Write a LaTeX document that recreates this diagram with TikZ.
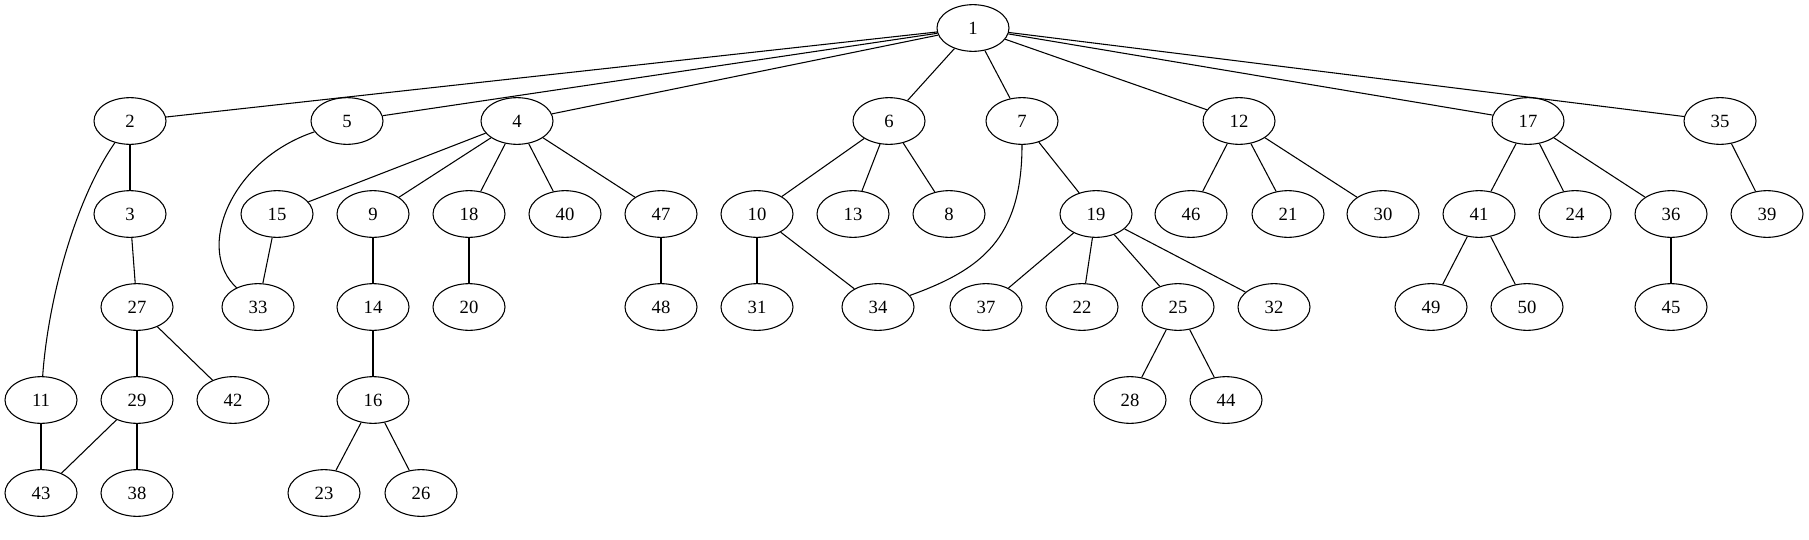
\documentclass[tikz,border=0pt]{standalone}
\usepackage{fontspec}
\setmainfont{Liberation Serif}
\usetikzlibrary{shapes.geometric}

\begin{document}
\begin{tikzpicture}[x=0.75pt,y=-0.75pt,
    vertex/.style={draw,ellipse,line width=0.8pt,minimum width=54pt,minimum height=35pt,
      inner sep=0pt,font=\fontsize{14}{16}\selectfont},
    edge/.style={line width=0.8pt}]
  \useasboundingbox (0,0) rectangle (1809,539);
  % row 0
  \node[vertex] (n1) at (973,28) {1};
  % row 1
  \node[vertex] (n2) at (130,121) {2};
  \node[vertex] (n5) at (347,121) {5};
  \node[vertex] (n4) at (517,121) {4};
  \node[vertex] (n6) at (889,121) {6};
  \node[vertex] (n7) at (1022,121) {7};
  \node[vertex] (n12) at (1239,121) {12};
  \node[vertex] (n17) at (1528,121) {17};
  \node[vertex] (n35) at (1720,121) {35};
  % row 2
  \node[vertex] (n3) at (130,214) {3};
  \node[vertex] (n15) at (277,214) {15};
  \node[vertex] (n9) at (373,214) {9};
  \node[vertex] (n18) at (469,214) {18};
  \node[vertex] (n40) at (565,214) {40};
  \node[vertex] (n47) at (661,214) {47};
  \node[vertex] (n10) at (757,214) {10};
  \node[vertex] (n13) at (853,214) {13};
  \node[vertex] (n8) at (949,214) {8};
  \node[vertex] (n19) at (1096,214) {19};
  \node[vertex] (n46) at (1191,214) {46};
  \node[vertex] (n21) at (1288,214) {21};
  \node[vertex] (n30) at (1383,214) {30};
  \node[vertex] (n41) at (1479,214) {41};
  \node[vertex] (n24) at (1575,214) {24};
  \node[vertex] (n36) at (1671,214) {36};
  \node[vertex] (n39) at (1767,214) {39};
  % row 3
  \node[vertex] (n27) at (137,307) {27};
  \node[vertex] (n33) at (258,307) {33};
  \node[vertex] (n14) at (373,307) {14};
  \node[vertex] (n20) at (469,307) {20};
  \node[vertex] (n48) at (661,307) {48};
  \node[vertex] (n31) at (757,307) {31};
  \node[vertex] (n34) at (878,307) {34};
  \node[vertex] (n37) at (986,307) {37};
  \node[vertex] (n22) at (1082,307) {22};
  \node[vertex] (n25) at (1178,307) {25};
  \node[vertex] (n32) at (1274,307) {32};
  \node[vertex] (n49) at (1431,307) {49};
  \node[vertex] (n50) at (1527,307) {50};
  \node[vertex] (n45) at (1671,307) {45};
  % row 4
  \node[vertex] (n11) at (41,400) {11};
  \node[vertex] (n29) at (137,400) {29};
  \node[vertex] (n42) at (233,400) {42};
  \node[vertex] (n16) at (373,400) {16};
  \node[vertex] (n28) at (1130,400) {28};
  \node[vertex] (n44) at (1226,400) {44};
  % row 5
  \node[vertex] (n43) at (41,493) {43};
  \node[vertex] (n38) at (137,493) {38};
  \node[vertex] (n23) at (324,493) {23};
  \node[vertex] (n26) at (421,493) {26};

  \draw[edge] (n1) -- (n2);
  \draw[edge] (n1) -- (n5);
  \draw[edge] (n1) -- (n4);
  \draw[edge] (n1) -- (n6);
  \draw[edge] (n1) -- (n7);
  \draw[edge] (n1) -- (n12);
  \draw[edge] (n1) -- (n17);
  \draw[edge] (n1) -- (n35);
  \draw[edge] (n2) -- (n3);
  \draw[edge] (n2) .. controls (75,200) and (48,300) .. (n11);
  \draw[edge] (n3) -- (n27);
  \draw[edge] (n27) -- (n29);
  \draw[edge] (n27) -- (n42);
  \draw[edge] (n29) -- (n43);
  \draw[edge] (n29) -- (n38);
  \draw[edge] (n11) -- (n43);
  \draw[edge] (n5) .. controls (230,160) and (195,250) .. (n33);
  \draw[edge] (n4) -- (n15);
  \draw[edge] (n4) -- (n9);
  \draw[edge] (n4) -- (n18);
  \draw[edge] (n4) -- (n40);
  \draw[edge] (n4) -- (n47);
  \draw[edge] (n15) -- (n33);
  \draw[edge] (n9) -- (n14);
  \draw[edge] (n14) -- (n16);
  \draw[edge] (n16) -- (n23);
  \draw[edge] (n16) -- (n26);
  \draw[edge] (n18) -- (n20);
  \draw[edge] (n47) -- (n48);
  \draw[edge] (n6) -- (n10);
  \draw[edge] (n6) -- (n13);
  \draw[edge] (n6) -- (n8);
  \draw[edge] (n10) -- (n31);
  \draw[edge] (n10) -- (n34);
  \draw[edge] (n7) .. controls (1022,240) and (980,270) .. (n34);
  \draw[edge] (n7) -- (n19);
  \draw[edge] (n19) -- (n37);
  \draw[edge] (n19) -- (n22);
  \draw[edge] (n19) -- (n25);
  \draw[edge] (n19) -- (n32);
  \draw[edge] (n25) -- (n28);
  \draw[edge] (n25) -- (n44);
  \draw[edge] (n12) -- (n46);
  \draw[edge] (n12) -- (n21);
  \draw[edge] (n12) -- (n30);
  \draw[edge] (n17) -- (n41);
  \draw[edge] (n17) -- (n24);
  \draw[edge] (n17) -- (n36);
  \draw[edge] (n41) -- (n49);
  \draw[edge] (n41) -- (n50);
  \draw[edge] (n36) -- (n45);
  \draw[edge] (n35) -- (n39);
\end{tikzpicture}
\end{document}
